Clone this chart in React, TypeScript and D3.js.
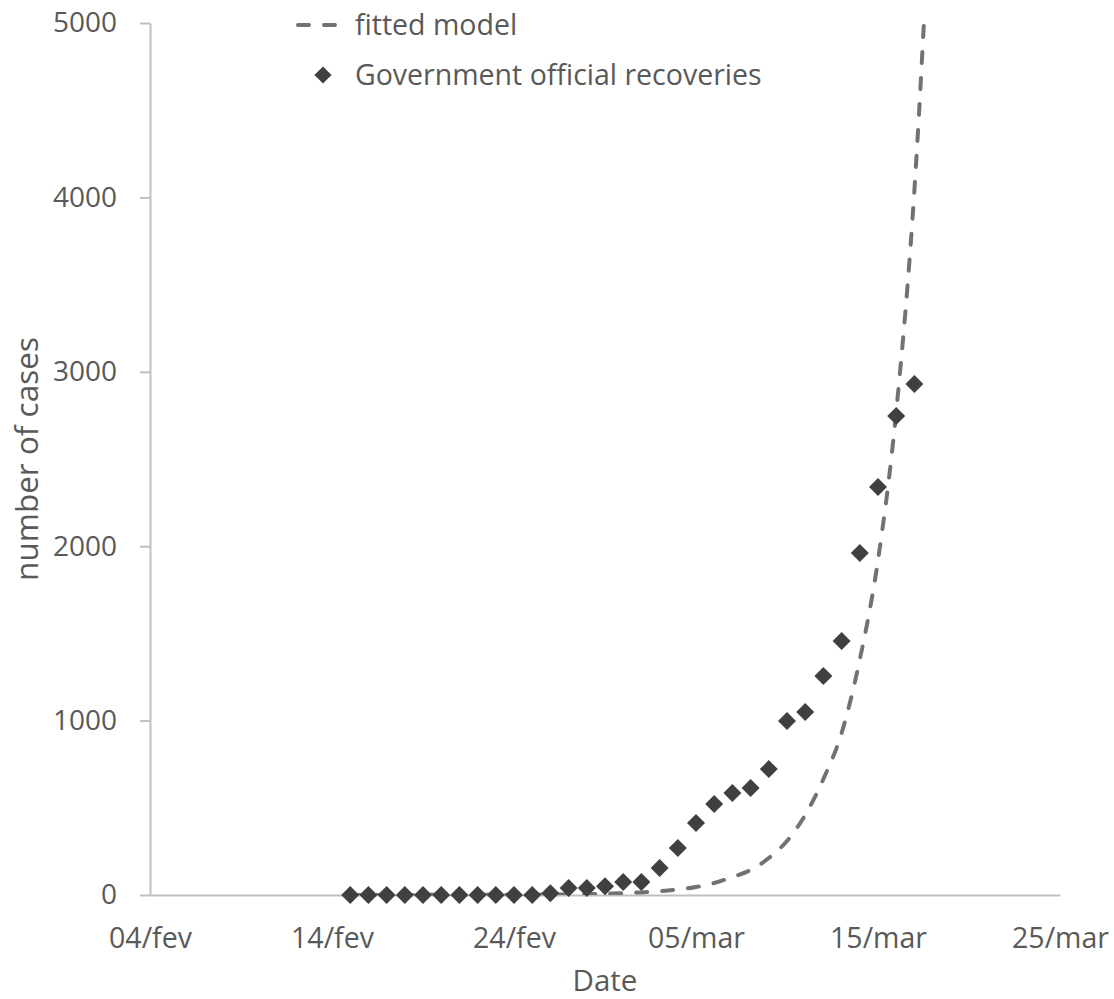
import * as React from "react"
import * as d3 from "d3"

const xTickDates = ["2020-02-04", "2020-02-14", "2020-02-24", "2020-03-05", "2020-03-15", "2020-03-25"]
const xTickLabels = ["04/fev", "14/fev", "24/fev", "05/mar", "15/mar", "25/mar"]
const yTicks = [0, 1000, 2000, 3000, 4000, 5000]

const recoveryDates = [
  "2020-02-15", "2020-02-16", "2020-02-17", "2020-02-18", "2020-02-19", "2020-02-20",
  "2020-02-21", "2020-02-22", "2020-02-23", "2020-02-24", "2020-02-25", "2020-02-26",
  "2020-02-27", "2020-02-28", "2020-02-29", "2020-03-01", "2020-03-02", "2020-03-03",
  "2020-03-04", "2020-03-05", "2020-03-06", "2020-03-07", "2020-03-08", "2020-03-09",
  "2020-03-10", "2020-03-11", "2020-03-12", "2020-03-13", "2020-03-14", "2020-03-15",
  "2020-03-16", "2020-03-17",
]
const recoveries = [
  0, 0, 0, 0, 0, 0, 0, 0, 0, 0, 0, 10, 40, 40, 50, 75, 75, 155, 270, 413, 522, 585,
  613, 722, 998, 1049, 1256, 1456, 1961, 2340, 2747, 2930,
]

const modelDates = [...recoveryDates, "2020-03-18"]
const modelValues = [
  0, 0, 0, 0, 1, 1, 1, 1, 2, 2, 2, 3, 4, 5, 7, 11, 15, 22, 32, 46, 69, 103, 143, 212,
  310, 459, 665, 929, 1350, 1920, 2770, 4042, 6000,
]

const seriesNames = ["fitted model", "Government official recoveries"]

const textColor = "#595959"
const axisColor = "#bfbfbf"
const lineColor = "#767171"
const markerColor = "#404040"
const font = "'Open Sans', sans-serif"

const diamond = "M0,-9L9,0L0,9L-9,0Z"

function render(svgRef: React.RefObject<SVGSVGElement>) {
  const parse = d3.utcParse("%Y-%m-%d")
  const margin = { top: 23, right: 54, bottom: 104, left: 150 }
  const width = 1114
  const height = 999

  const svg = d3.select(svgRef.current).attr("width", width).attr("height", height)

  const xScale = d3
    .scaleUtc()
    .domain([parse(xTickDates[0])!, parse(xTickDates[xTickDates.length - 1])!])
    .range([margin.left, width - margin.right])

  const yScale = d3
    .scaleLinear()
    .domain([0, 5000])
    .range([height - margin.bottom, margin.top])

  svg.selectAll("*").remove()

  svg
    .append("defs")
    .append("clipPath")
    .attr("id", "plotClip")
    .append("rect")
    .attr("x", margin.left)
    .attr("y", margin.top)
    .attr("width", width - margin.right - margin.left)
    .attr("height", height - margin.bottom - margin.top)

  // y-axis
  const yAxis = svg
    .append("g")
    .attr("transform", `translate(${margin.left},0)`)
    .call(
      d3
        .axisLeft(yScale)
        .tickValues(yTicks)
        .tickFormat(d3.format("d"))
        .tickSize(10)
        .tickSizeOuter(0)
        .tickPadding(23)
    )
  yAxis.select(".domain").attr("stroke", axisColor).attr("stroke-width", 2)
  yAxis.selectAll(".tick line").attr("stroke", axisColor).attr("stroke-width", 2)
  yAxis
    .selectAll(".tick text")
    .attr("fill", textColor)
    .attr("font-size", 28)
    .attr("font-family", font)

  // x-axis
  const xAxis = svg
    .append("g")
    .attr("transform", `translate(0,${height - margin.bottom})`)
    .call(
      d3
        .axisBottom(xScale)
        .tickValues(xTickDates.map((d) => parse(d)!))
        .tickFormat((_, i) => xTickLabels[i])
        .tickSize(0)
        .tickPadding(33)
    )
  xAxis.select(".domain").attr("stroke", axisColor).attr("stroke-width", 2)
  xAxis
    .selectAll(".tick text")
    .attr("fill", textColor)
    .attr("font-size", 28.5)
    .attr("font-family", font)

  // axis titles
  svg
    .append("text")
    .attr("x", (margin.left + width - margin.right) / 2)
    .attr("y", 991)
    .attr("text-anchor", "middle")
    .attr("fill", textColor)
    .attr("font-size", 29.5)
    .attr("font-family", font)
    .text("Date")

  svg
    .append("text")
    .attr("transform", `translate(38,${(margin.top + height - margin.bottom) / 2}) rotate(-90)`)
    .attr("text-anchor", "middle")
    .attr("fill", textColor)
    .attr("font-size", 31.5)
    .attr("font-family", font)
    .text("number of cases")

  // fitted model
  const modelPoints = modelDates.map((d, i) => [parse(d)!, modelValues[i]] as [Date, number])
  const line = d3
    .line<[Date, number]>()
    .x((d) => xScale(d[0]))
    .y((d) => yScale(d[1]))
    .curve(d3.curveMonotoneX)

  svg
    .append("path")
    .attr("d", line(modelPoints))
    .attr("clip-path", "url(#plotClip)")
    .attr("fill", "none")
    .attr("stroke", lineColor)
    .attr("stroke-width", 4)
    .attr("stroke-linecap", "round")
    .attr("stroke-dasharray", "11,15")

  // official recoveries
  svg
    .append("g")
    .selectAll("path")
    .data(recoveryDates.map((d, i) => [parse(d)!, recoveries[i]] as [Date, number]))
    .join("path")
    .attr("d", diamond)
    .attr("transform", (d) => `translate(${xScale(d[0])},${yScale(d[1])})`)
    .attr("fill", markerColor)

  // legend
  const legend = svg.append("g")
  legend
    .append("line")
    .attr("x1", 298)
    .attr("x2", 341)
    .attr("y1", 25)
    .attr("y2", 25)
    .attr("stroke", lineColor)
    .attr("stroke-width", 4)
    .attr("stroke-linecap", "round")
    .attr("stroke-dasharray", "11,15")
  legend
    .append("text")
    .attr("x", 355)
    .attr("y", 35)
    .attr("fill", textColor)
    .attr("font-size", 28.5)
    .attr("font-family", font)
    .text(seriesNames[0])
  legend
    .append("path")
    .attr("d", diamond)
    .attr("transform", "translate(323,75) scale(0.95)")
    .attr("fill", markerColor)
  legend
    .append("text")
    .attr("x", 355)
    .attr("y", 85)
    .attr("fill", textColor)
    .attr("font-size", 28.5)
    .attr("font-family", font)
    .text(seriesNames[1])
}

export default function App(): React.JSX.Element {
  const svg = React.useRef<SVGSVGElement>(null)

  React.useEffect(() => {
    render(svg)
  }, [])

  return (
    <div style={{ position: "absolute", left: 0, top: 0 }}>
      <svg ref={svg} style={{ display: "block", background: "#fff" }}></svg>
    </div>
  )
}
